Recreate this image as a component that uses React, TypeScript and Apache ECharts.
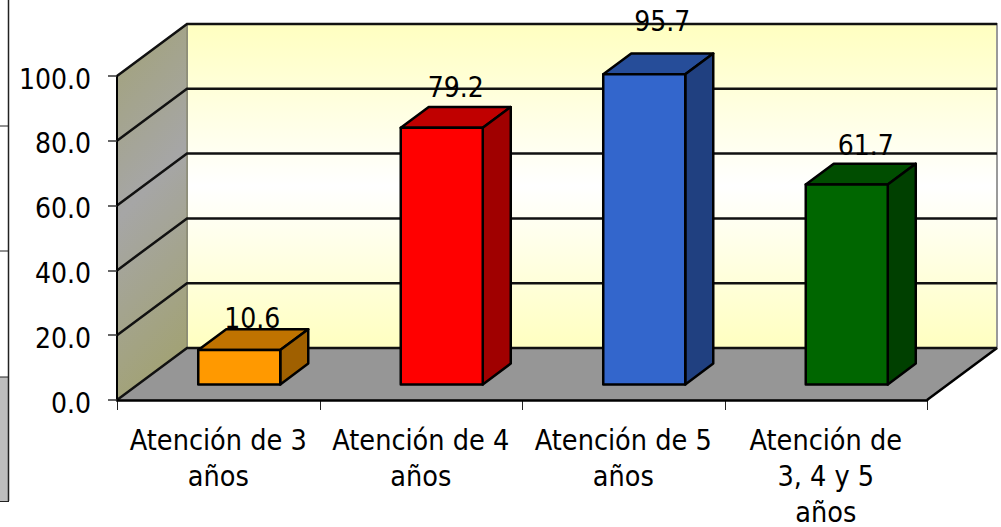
import React, { useEffect, useRef } from "react";
import * as echarts from "echarts";

const categories = ["Atención de 3\naños", "Atención de 4\naños", "Atención de 5\naños", "Atención de\n3, 4 y 5\naños"];
const values = [10.6, 79.2, 95.7, 61.7];
const yTicks = [0, 20, 40, 60, 80, 100];

const frontColors = ["#FF9900", "#FF0000", "#3366CC", "#006600"];
const topColors = ["#C07300", "#C00000", "#264D99", "#004D00"];
const sideColors = ["#A06000", "#A00000", "#204080", "#004000"];
const labelGaps = [3, 11, 24, 10];
const labelShifts = [-1, 0, 4, 5];

const FONT = '"DejaVu Sans Condensed", "DejaVu Sans", sans-serif';
const DX = 70;
const DY = 52;
const BAR_RATIO = 0.405;
const BAR_START = 0.3;
const BAR_DEPTH = 0.4;
const TICK = 10;

const wallGradient = (a: string, b: string, x2: number) => ({
  type: "linear",
  x: 0,
  y: 0,
  x2,
  y2: 1,
  colorStops: [
    { offset: 0, color: a },
    { offset: 0.5, color: b },
    { offset: 1, color: a },
  ],
});

function renderWalls(params: any, api: any) {
  const cs = params.coordSys;
  const x0 = cs.x;
  const x1 = cs.x + cs.width;
  const yb = cs.y + cs.height;
  const yt = cs.y;
  const children: any[] = [
    {
      type: "polygon",
      shape: { points: [[x0 + DX, yt - DY], [x1 + DX, yt - DY], [x1 + DX, yb - DY], [x0 + DX, yb - DY]] },
      style: { fill: wallGradient("#FFFFC0", "#FFFFFF", 0), stroke: "#9A9A9A", lineWidth: 2 },
    },
    {
      type: "polygon",
      shape: { points: [[x0, yt], [x0 + DX, yt - DY], [x0 + DX, yb - DY], [x0, yb]] },
      style: { fill: wallGradient("#A2A277", "#A6A6A6", 0.2), stroke: "#808060", lineWidth: 1 },
    },
    {
      type: "polygon",
      shape: { points: [[x0, yb], [x0 + DX, yb - DY], [x1 + DX, yb - DY], [x1, yb]] },
      style: { fill: "#969696", stroke: "#808080", lineWidth: 1 },
    },
    {
      type: "polyline",
      shape: { points: [[x1, yb], [x1 + DX, yb - DY]] },
      style: { fill: "none", stroke: "#000000", lineWidth: 2.5 },
    },
  ];
  yTicks.forEach((t) => {
    const y = api.coord([0, t])[1];
    children.push({
      type: "polyline",
      shape: { points: [[x0, y], [x0 + DX, y - DY], [x1 + DX, y - DY]] },
      style: { fill: "none", stroke: "#111111", lineWidth: 2.5 },
    });
  });
  const step = api.size([1, 0])[0];
  categories.concat("").forEach((_, i) => {
    const x = Math.round(x0 + step * i) + 0.5;
    children.push({
      type: "line",
      shape: { x1: x, y1: yb, x2: x, y2: yb + TICK },
      style: { stroke: "#222222", lineWidth: 1 },
    });
  });
  return { type: "group", children };
}

function renderBar(params: any, api: any) {
  const i = api.value(0);
  const v = api.value(1);
  const top = api.coord([i, v]);
  const base = api.coord([i, 0]);
  const w = api.size([1, 0])[0] * BAR_RATIO;
  const ox = DX * BAR_START;
  const oy = DY * BAR_START;
  const dx = DX * BAR_DEPTH;
  const dy = DY * BAR_DEPTH;
  const l = top[0] + ox - w / 2;
  const r = l + w;
  const t = top[1] - oy;
  const b = base[1] - oy;
  const stroke = { stroke: "#000000", lineWidth: 2.5, lineJoin: "round" };
  return {
    type: "group",
    children: [
      { type: "polygon", shape: { points: [[l, t], [r, t], [r + dx, t - dy], [l + dx, t - dy]] }, style: { fill: topColors[i], ...stroke } },
      { type: "polygon", shape: { points: [[r, t], [r + dx, t - dy], [r + dx, b - dy], [r, b]] }, style: { fill: sideColors[i], ...stroke } },
      { type: "polygon", shape: { points: [[l, t], [r, t], [r, b], [l, b]] }, style: { fill: frontColors[i], ...stroke } },
      {
        type: "text",
        z2: 10,
        style: {
          text: v.toFixed(1),
          x: (l + r) / 2 + dx / 2 + labelShifts[i],
          y: t - dy - labelGaps[i] + 6,
          align: "center",
          verticalAlign: "bottom",
          fontSize: 28,
          fontFamily: FONT,
          fill: "#000000",
        },
      },
    ],
  };
}

export default function App() {
  const ref = useRef<HTMLDivElement>(null);
  useEffect(() => {
    const chart = echarts.init(ref.current!, undefined, { renderer: "svg" });
    chart.setOption({
      animation: false,
      backgroundColor: "#FFFFFF",
      grid: { left: 117, right: 74, top: 76, bottom: 127, outerBoundsMode: "none" },
      xAxis: {
        type: "category",
        data: categories,
        z: 10,
        axisLine: { lineStyle: { color: "#000000", width: 2.5 } },
        axisTick: { show: false },
        axisLabel: { interval: 0, color: "#000000", fontSize: 28.5, fontFamily: FONT, lineHeight: 36, margin: 22 },
      },
      yAxis: {
        type: "value",
        min: 0,
        max: 100,
        interval: 20,
        z: 10,
        axisLine: { show: true, lineStyle: { color: "#000000", width: 2 } },
        axisTick: { show: true, inside: false, length: 9, lineStyle: { color: "#333333", width: 1.5 } },
        splitLine: { show: false },
        axisLabel: {
          color: "#000000",
          fontSize: 28,
          fontFamily: FONT,
          margin: 26,
          verticalAlign: "top",
          padding: [-11, 0, 0, 0],
          formatter: (v: number) => v.toFixed(1),
        },
      },
      graphic: [
        { type: "rect", shape: { x: 0, y: 377, width: 8, height: 124 }, style: { fill: "#BEBEBE" } },
        { type: "line", shape: { x1: 8.5, y1: 0, x2: 8.5, y2: 501 }, style: { stroke: "#222222", lineWidth: 1.5 } },
        { type: "line", shape: { x1: 0, y1: 126, x2: 8, y2: 126 }, style: { stroke: "#222222", lineWidth: 1 } },
        { type: "line", shape: { x1: 0, y1: 251, x2: 8, y2: 251 }, style: { stroke: "#222222", lineWidth: 1 } },
        { type: "line", shape: { x1: 0, y1: 377, x2: 8, y2: 377 }, style: { stroke: "#222222", lineWidth: 1 } },
        { type: "line", shape: { x1: 0, y1: 501.5, x2: 9, y2: 501.5 }, style: { stroke: "#222222", lineWidth: 1 } },
      ],
      series: [
        { type: "custom", z: 1, clip: false, silent: true, renderItem: renderWalls, data: [[0, 0]], encode: { x: 0, y: 1 } },
        {
          type: "custom",
          z: 2,
          clip: false,
          renderItem: renderBar,
          data: values.map((v, i) => [i, v]),
          encode: { x: 0, y: 1 },
        },
      ],
    });
    return () => chart.dispose();
  }, []);
  return <div ref={ref} style={{ position: "absolute", left: 0, top: 0, width: 1001, height: 527 }} />;
}
